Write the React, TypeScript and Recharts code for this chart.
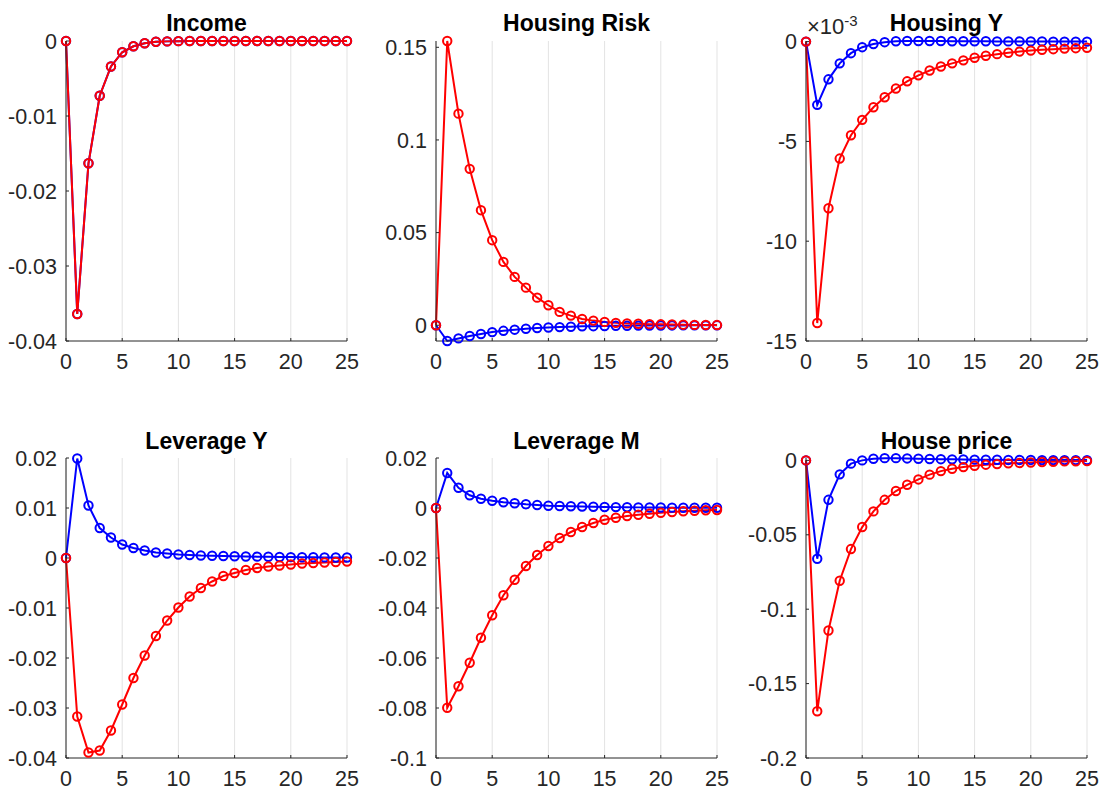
import { LineChart, Line, XAxis, YAxis, CartesianGrid } from "recharts"

const periods = [0, 1, 2, 3, 4, 5, 6, 7, 8, 9, 10, 11, 12, 13, 14, 15, 16, 17, 18, 19, 20, 21, 22, 23, 24, 25]
const xTicks = [0, 5, 10, 15, 20, 25]

// Income (both scenarios coincide)
const incomeBlue = [0, -0.0364, -0.0163, -0.0073, -0.0034, -0.0015, -0.0007, -0.0003, -0.0001, -0.00005, -0.00002, 0, 0, 0, 0, 0, 0, 0, 0, 0, 0, 0, 0, 0, 0, 0]
const incomeRed = [0, -0.0364, -0.0163, -0.0073, -0.0034, -0.0015, -0.0007, -0.0003, -0.0001, -0.00005, -0.00002, 0, 0, 0, 0, 0, 0, 0, 0, 0, 0, 0, 0, 0, 0, 0]
const incomeTicks = [-0.04, -0.03, -0.02, -0.01, 0]
const incomeLabels = ["-0.04", "-0.03", "-0.02", "-0.01", "0"]

// Housing Risk
const riskBlue = [0, -0.0085, -0.0071, -0.0058, -0.0047, -0.0037, -0.003, -0.0024, -0.0019, -0.0015, -0.0012, -0.001, -0.0008, -0.0006, -0.0005, -0.0004, -0.0003, -0.00025, -0.0002, -0.00015, -0.00012, -0.0001, -0.00008, -0.00006, -0.00005, -0.00004]
const riskRed = [0, 0.1534, 0.1142, 0.0844, 0.0621, 0.0459, 0.0342, 0.0261, 0.0203, 0.0149, 0.0108, 0.0072, 0.0052, 0.0034, 0.0025, 0.0018, 0.0013, 0.001, 0.0008, 0.0006, 0.0005, 0.0004, 0.0003, 0.0002, 0.00015, 0.0001]
const riskTicks = [0, 0.05, 0.1, 0.15]
const riskLabels = ["0", "0.05", "0.1", "0.15"]

// Housing Y (x10^-3)
const housingYBlue = [0, -0.00317, -0.00189, -0.00109, -0.00058, -0.00028, -0.00012, -0.00003, 0.00002, 0.00003, 0.00003, 0.00003, 0.00003, 0.00002, 0.00002, 0.00002, 0.00002, 0.00001, 0.00001, 0.00001, 0.00001, 0.00001, 0, 0, 0, 0]
const housingYRed = [0, -0.0141, -0.00835, -0.00586, -0.00469, -0.00392, -0.00329, -0.00279, -0.00235, -0.00199, -0.00169, -0.00145, -0.00125, -0.00109, -0.00094, -0.00081, -0.00071, -0.00063, -0.00056, -0.0005, -0.00045, -0.00041, -0.00038, -0.00035, -0.00033, -0.00031]
const housingYTicks = [-0.015, -0.01, -0.005, 0]
const housingYLabels = ["-15", "-10", "-5", "0"]

// Leverage Y
const levYBlue = [0, 0.0199, 0.0105, 0.006, 0.0041, 0.0027, 0.002, 0.0015, 0.0011, 0.0009, 0.0007, 0.0006, 0.0005, 0.00045, 0.0004, 0.00035, 0.0003, 0.00027, 0.00024, 0.0002, 0.00018, 0.00016, 0.00014, 0.00012, 0.0001, 0.0001]
const levYRed = [0, -0.0317, -0.0389, -0.0385, -0.0345, -0.0293, -0.024, -0.0195, -0.0156, -0.0125, -0.0099, -0.0077, -0.006, -0.0047, -0.0036, -0.003, -0.0024, -0.002, -0.0017, -0.0015, -0.0013, -0.0011, -0.001, -0.0009, -0.0008, -0.0007]
const levYTicks = [-0.04, -0.03, -0.02, -0.01, 0, 0.01, 0.02]
const levYLabels = ["-0.04", "-0.03", "-0.02", "-0.01", "0", "0.01", "0.02"]

// Leverage M
const levMBlue = [0, 0.014, 0.0081, 0.0051, 0.0037, 0.0029, 0.0023, 0.0019, 0.0015, 0.0012, 0.0009, 0.0008, 0.0007, 0.0006, 0.0005, 0.0004, 0.00035, 0.0003, 0.00025, 0.0002, 0.0002, 0.00015, 0.00012, 0.0001, 0.0001, 0.0001]
const levMRed = [0, -0.0799, -0.0713, -0.0619, -0.0519, -0.0429, -0.0349, -0.0287, -0.0232, -0.0188, -0.0152, -0.012, -0.0096, -0.0076, -0.006, -0.0047, -0.0039, -0.0032, -0.0027, -0.0023, -0.0019, -0.0016, -0.0013, -0.0011, -0.0009, -0.0008]
const levMTicks = [-0.1, -0.08, -0.06, -0.04, -0.02, 0, 0.02]
const levMLabels = ["-0.1", "-0.08", "-0.06", "-0.04", "-0.02", "0", "0.02"]

// House price
const priceBlue = [0, -0.0661, -0.0265, -0.0094, -0.0022, 0, 0.0011, 0.0015, 0.0015, 0.0013, 0.0011, 0.0009, 0.0008, 0.0007, 0.0006, 0.0005, 0.0004, 0.0004, 0.0003, 0.0003, 0.0003, 0.0002, 0.0002, 0.0002, 0.0002, 0.0002]
const priceRed = [0, -0.1686, -0.1143, -0.0809, -0.0596, -0.0448, -0.0343, -0.0265, -0.0206, -0.0164, -0.0128, -0.0096, -0.0072, -0.0056, -0.0045, -0.0036, -0.0029, -0.0025, -0.002, -0.0018, -0.0014, -0.0011, -0.0009, -0.0007, -0.0006, -0.0005]
const priceTicks = [-0.2, -0.15, -0.1, -0.05, 0]
const priceLabels = ["-0.2", "-0.15", "-0.1", "-0.05", "0"]

const AXIS = "#262626"
const FONT = "'Liberation Sans', Arial, Helvetica, sans-serif"
const TICK_FS = 21.5
const PLOT_W = 281
const PLOT_H = 300
const Y_W = 60
const M_TOP = 10
const M_RIGHT = 15
const X_H = 40

const makeData = (blue: number[], red: number[]) =>
  periods.map((t, i) => ({ t, blue: blue[i], red: red[i] }))

function YTick(props: any) {
  const { x, y, payload, ticks, labels } = props
  const idx = ticks.findIndex((v: number) => Math.abs(v - payload.value) < 1e-9)
  const axisX = x + 9
  return (
    <g>
      <line x1={axisX} x2={axisX + 3} y1={y} y2={y} stroke={AXIS} strokeWidth={1} />
      <text x={x} y={y} dy="0.355em" textAnchor="end" fill={AXIS} fontSize={TICK_FS} fontFamily={FONT}>
        {idx >= 0 ? labels[idx] : payload.value}
      </text>
    </g>
  )
}

function XTick(props: any) {
  const { x, y, payload } = props
  const axisY = y - 13
  return (
    <g>
      <line x1={x} x2={x} y1={axisY} y2={axisY - 3} stroke={AXIS} strokeWidth={1} />
      <text x={x} y={y} dy="0.71em" textAnchor="middle" fill={AXIS} fontSize={TICK_FS} fontFamily={FONT}>
        {payload.value}
      </text>
    </g>
  )
}

interface PanelProps {
  title: string
  left: number
  top: number
  blue: number[]
  red: number[]
  domain: [number, number]
  ticks: number[]
  labels: string[]
  titleTop: number
}

function Panel({ title, left, top, blue, red, domain, ticks, labels, titleTop }: PanelProps) {
  const data = makeData(blue, red)
  return (
    <>
      <div
        style={{
          position: "absolute",
          left: left + PLOT_W / 2,
          top: titleTop,
          transform: "translateX(-50%)",
          fontFamily: FONT,
          fontWeight: "bold",
          fontSize: 23,
          lineHeight: "23px",
          color: "#000",
          whiteSpace: "nowrap",
          zIndex: 2,
        }}
      >
        {title}
      </div>
      <div style={{ position: "absolute", left: left - Y_W, top: top - M_TOP }}>
        <LineChart
          width={Y_W + PLOT_W + M_RIGHT}
          height={M_TOP + PLOT_H + X_H}
          data={data}
          margin={{ top: M_TOP, right: M_RIGHT, left: 0, bottom: 0 }}
        >
          <CartesianGrid horizontal={false} stroke="#e3e3e3" strokeWidth={1} />
          <XAxis
            dataKey="t"
            type="number"
            domain={[0, 25]}
            ticks={xTicks}
            height={X_H}
            tickSize={0}
            tickLine={false}
            tickMargin={13}
            stroke={AXIS}
            tick={(p: any) => <XTick {...p} />}
          />
          <YAxis
            type="number"
            domain={domain}
            ticks={ticks}
            width={Y_W}
            tickSize={0}
            tickLine={false}
            tickMargin={9}
            stroke={AXIS}
            tick={(p: any) => <YTick {...p} ticks={ticks} labels={labels} />}
          />
          <Line
            dataKey="blue"
            stroke="#0000ff"
            strokeWidth={2}
            dot={{ r: 4.2, fill: "none", stroke: "#0000ff", strokeWidth: 2 }}
            isAnimationActive={false}
          />
          <Line
            dataKey="red"
            stroke="#ff0000"
            strokeWidth={2}
            dot={{ r: 4.2, fill: "none", stroke: "#ff0000", strokeWidth: 2 }}
            isAnimationActive={false}
          />
        </LineChart>
      </div>
    </>
  )
}

export default function App() {
  return (
    <div
      style={{
        position: "absolute",
        left: 0,
        top: 0,
        width: 1101,
        height: 790,
        background: "#fff",
        overflow: "hidden",
      }}
    >
      <Panel title="Income" left={66} top={41} titleTop={12} blue={incomeBlue} red={incomeRed} domain={[-0.04, 0]} ticks={incomeTicks} labels={incomeLabels} />
      <Panel title="Housing Risk" left={436} top={41} titleTop={12} blue={riskBlue} red={riskRed} domain={[-0.0085, 0.1534]} ticks={riskTicks} labels={riskLabels} />
      <Panel title="Housing Y" left={806} top={41} titleTop={12} blue={housingYBlue} red={housingYRed} domain={[-0.015, 0.00003]} ticks={housingYTicks} labels={housingYLabels} />
      <Panel title="Leverage Y" left={66} top={458} titleTop={430} blue={levYBlue} red={levYRed} domain={[-0.04, 0.02]} ticks={levYTicks} labels={levYLabels} />
      <Panel title="Leverage M" left={436} top={458} titleTop={430} blue={levMBlue} red={levMRed} domain={[-0.1, 0.02]} ticks={levMTicks} labels={levMLabels} />
      <Panel title="House price" left={806} top={458} titleTop={430} blue={priceBlue} red={priceRed} domain={[-0.2, 0.0016]} ticks={priceTicks} labels={priceLabels} />
      <svg
        width={70}
        height={40}
        style={{ position: "absolute", left: 800, top: 8, zIndex: 1, overflow: "visible" }}
      >
        <text x={7} y={26} fill={AXIS} fontFamily={FONT} fontSize={22}>
          ×10
          <tspan fontSize={15} dy={-8}>-3</tspan>
        </text>
      </svg>
    </div>
  )
}
